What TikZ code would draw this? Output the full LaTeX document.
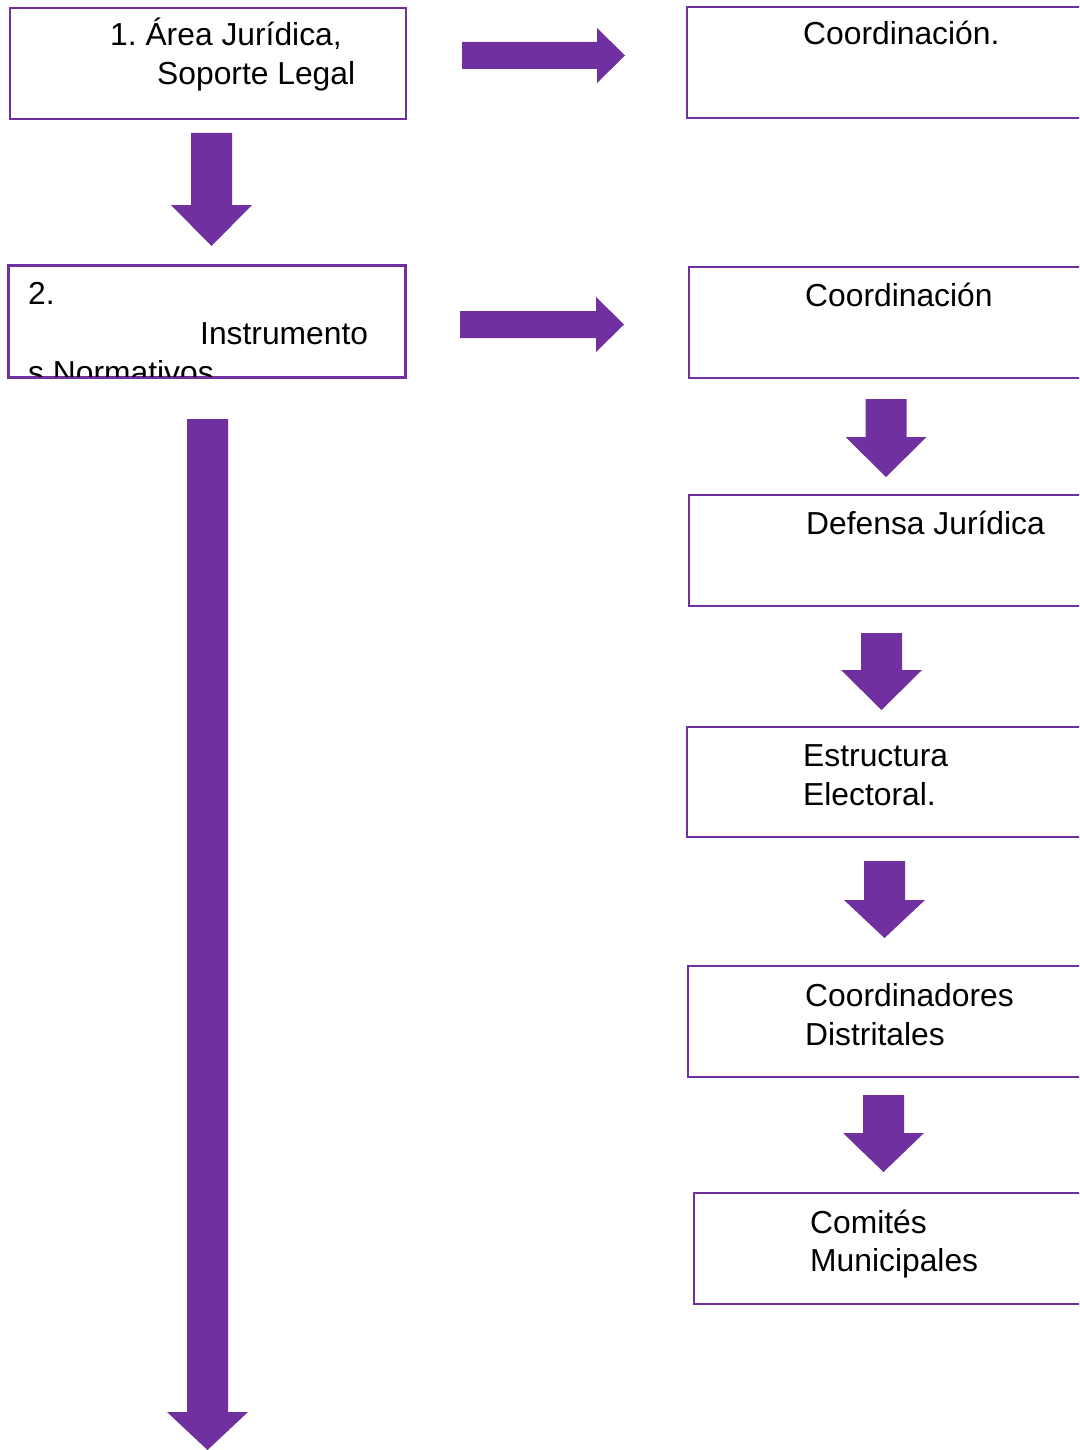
\documentclass[tikz,border=0pt]{standalone}
\usepackage{fontspec}
\setmainfont{Liberation Sans}
\frenchspacing
\definecolor{orgpurple}{HTML}{7030A0}
% vertical block arrow: centre x, top, neck, tip
\newcommand\varrow[4]{\fill[blk] (#1-20.5,#2) -- (#1+20.5,#2) -- (#1+20.5,#3) -- (#1+40.5,#3) -- (#1,#4) -- (#1-40.5,#3) -- (#1-20.5,#3) -- cycle;}
% horizontal block arrow: centre y, left, neck, tip
\newcommand\harrow[4]{\fill[blk] (#2,#1-13.5) -- (#3,#1-13.5) -- (#3,#1-27.5) -- (#4,#1) -- (#3,#1+27.5) -- (#3,#1+13.5) -- (#2,#1+13.5) -- cycle;}
\begin{document}
\begin{tikzpicture}[x=1pt,y=-1pt,
  box/.style={draw=orgpurple, line width=2.2pt, fill=white, inner sep=0pt, anchor=north west},
  lbl/.style={anchor=base west, inner sep=0pt, font=\fontsize{31.8}{39}\selectfont},
  blk/.style={fill=orgpurple, draw=none}]
\useasboundingbox (0,0) rectangle (1079,1450);
\clip (0,0) rectangle (1079,1450);

% left column
\node[box, minimum width=396pt, minimum height=111pt] (b1) at (9,7) {};
\node[lbl] (t1a) at (110,46) {1. Área Jurídica,};
\node[lbl] (t1b) at (157,85) {Soporte Legal};

\node[box, minimum width=396pt, minimum height=111pt] (b2) at (8,265) {};
\begin{scope}
  \clip (b2.north west) rectangle (b2.south east);
  \node[lbl] (t2a) at (28,304) {2.};
  \node[lbl] (t2b) at (200,344) {Instrumento};
  \node[lbl] (t2c) at (28,383) {s Normativos};
\end{scope}
\draw[draw=orgpurple, line width=2.2pt] (b2.north west) rectangle (b2.south east);

% right column
\node[box, minimum width=420pt, minimum height=111pt] (r1) at (686,6) {};
\node[lbl] (tr1) at (803,45) {Coordinación.};
\node[box, minimum width=420pt, minimum height=111pt] (r2) at (688,266) {};
\node[lbl] (tr2) at (805,306) {Coordinación};
\node[box, minimum width=420pt, minimum height=111pt] (r3) at (688,494) {};
\node[lbl] (tr3) at (806,534) {Defensa Jurídica};
\node[box, minimum width=420pt, minimum height=110pt] (r4) at (686,726) {};
\node[lbl] (tr4a) at (803,766) {Estructura};
\node[lbl] (tr4b) at (803,805) {Electoral.};
\node[box, minimum width=420pt, minimum height=111pt] (r5) at (687,965) {};
\node[lbl] (tr5a) at (805,1006) {Coordinadores};
\node[lbl] (tr5b) at (805,1045) {Distritales};
\node[box, minimum width=420pt, minimum height=111pt] (r6) at (693,1192) {};
\node[lbl] (tr6a) at (810,1233) {Comités};
\node[lbl] (tr6b) at (810,1271) {Municipales};

% block arrows
\harrow{55.5}{462}{597}{625}
\harrow{324.5}{460}{596}{624}
\varrow{211.5}{133}{205}{246}
\varrow{207.5}{419}{1412}{1450}
\varrow{886}{399}{437}{477}
\varrow{881.5}{633}{670}{710}
\varrow{884.5}{861}{900}{938}
\varrow{883.5}{1095}{1133}{1172}
\end{tikzpicture}
\end{document}
